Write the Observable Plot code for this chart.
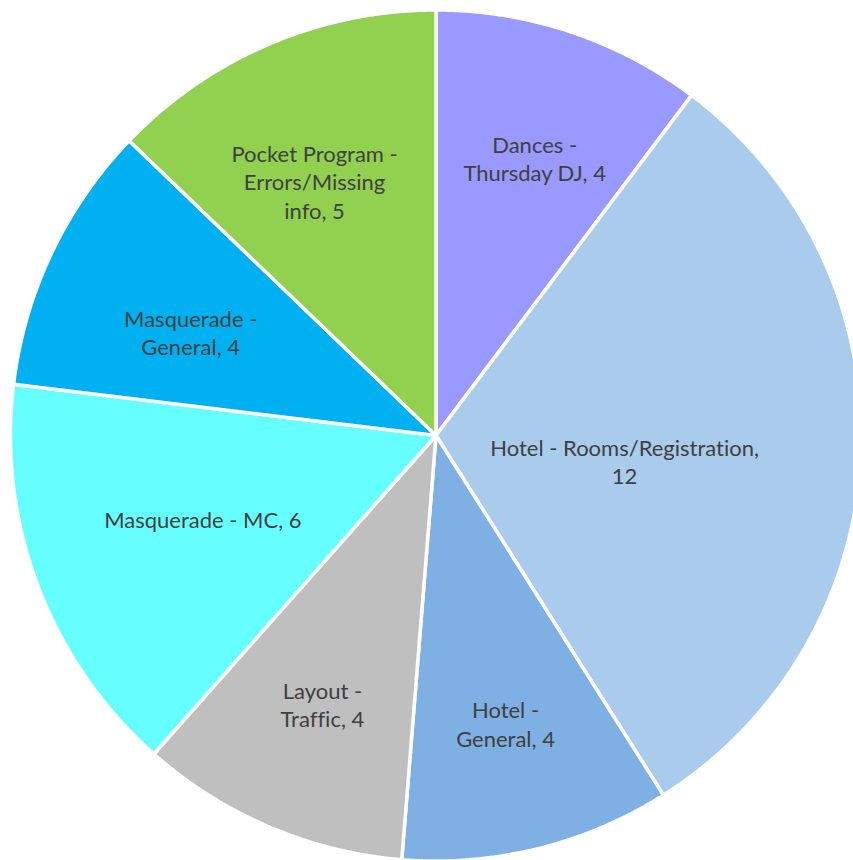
<!DOCTYPE html>
<html>
<head>
<meta charset="utf-8">
<script src="https://cdn.jsdelivr.net/npm/d3@7"></script>
<script src="https://cdn.jsdelivr.net/npm/@observablehq/plot@0.6"></script>
<style>
  html, body { margin: 0; padding: 0; background: #ffffff; }
  #chart svg { display: block; }
  #chart text { font-variant-ligatures: none; font-feature-settings: "liga" 0, "clig" 0; }
</style>
</head>
<body>
<div id="chart"></div>
<script>
// ---- data ----
const categories = [
  "Dances - Thursday DJ",
  "Hotel - Rooms/Registration",
  "Hotel - General",
  "Layout - Traffic",
  "Masquerade - MC",
  "Masquerade - General",
  "Pocket Program - Errors/Missing info"
];
const values = [4, 12, 4, 4, 6, 4, 5];
const labels = [
  "Dances -\nThursday DJ, 4",
  "Hotel - Rooms/Registration,\n12",
  "Hotel -\nGeneral, 4",
  "Layout -\nTraffic, 4",
  "Masquerade - MC, 6",
  "Masquerade -\nGeneral, 4",
  "Pocket Program -\nErrors/Missing\ninfo, 5"
];
const colors = ["#9999FF", "#A9CBEC", "#7FB0E3", "#BFBFBF", "#66FFFF", "#00B0F0", "#92D050"];

// label placement (degrees clockwise from top, fraction of radius)
const labelAngle = [19.7, 98.3, 166.5, 202.8, 250.0, 292.5, 334.3];
const labelRadius = [0.688, 0.448, 0.700, 0.689, 0.583, 0.624, 0.658];

// ---- layout ----
const W = 853, H = 860;
const cx = 435.5, cy = 435, R = 425.5;

const pie = d3.pie().sort(null).value(d => d)(values);

const marks = pie.map((s, i) => {
  const n = Math.max(8, Math.ceil((s.endAngle - s.startAngle) / 0.01));
  const pts = [{x: 0, y: 0}];
  for (let k = 0; k <= n; k++) {
    const a = s.startAngle + (s.endAngle - s.startAngle) * k / n;
    pts.push({x: Math.sin(a), y: Math.cos(a)});
  }
  return Plot.line(pts, {
    x: "x", y: "y", curve: "linear-closed",
    fill: colors[i], stroke: "white", strokeWidth: 3.5, strokeLinejoin: "miter"
  });
});

const labelData = labels.map((t, i) => {
  const a = labelAngle[i] * Math.PI / 180;
  return {text: t, x: labelRadius[i] * Math.sin(a), y: labelRadius[i] * Math.cos(a)};
});

const chart = Plot.plot({
  width: W,
  height: H,
  margin: 0,
  x: {domain: [-1, 1], range: [cx - R, cx + R], axis: null},
  y: {domain: [-1, 1], range: [cy + R, cy - R], axis: null},
  style: {background: "white"},
  marks: [
    ...marks,
    Plot.text(labelData, {
      x: "x", y: "y", text: "text",
      fill: "#404040",
      fontSize: 22,
      lineHeight: 1.3,
      dy: -2,
      textAnchor: "middle",
      fontFamily: "Lato, 'Open Sans', sans-serif"
    })
  ]
});
document.getElementById("chart").appendChild(chart);
</script>
</body>
</html>
